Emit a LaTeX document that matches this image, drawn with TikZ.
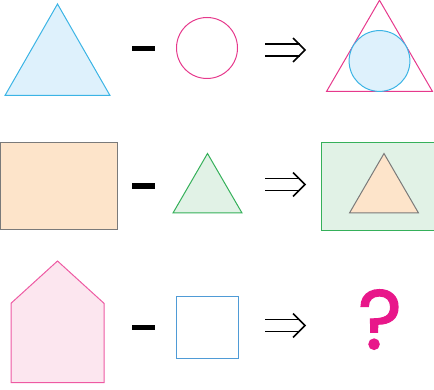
\documentclass[tikz,border=0pt]{standalone}
\usepackage{fontspec}
\usetikzlibrary{positioning}
\newfontfamily\queryfont{Poppins}[FakeBold=1.5]

\definecolor{skyline}{HTML}{3BB4E5}
\definecolor{skyfill}{HTML}{DEF1FC}
\definecolor{rosy}{HTML}{E6398C}
\definecolor{peach}{HTML}{FDE4CA}
\definecolor{slate}{HTML}{7A7A7A}
\definecolor{leafline}{HTML}{35B05A}
\definecolor{leaffill}{HTML}{E1F2E6}
\definecolor{pinkline}{HTML}{EE5AA3}
\definecolor{pinkfill}{HTML}{FCE6EF}
\definecolor{boxblue}{HTML}{4F9BD6}
\definecolor{query}{HTML}{E8178A}

\begin{document}
\begin{tikzpicture}[
    x=1pt, y=-1pt,
    outline/.style={line width=1pt, line join=miter},
    minus_bar/.style={fill=black, draw=none},
    then_arrow/.style={line width=1.7pt, line cap=butt}
]
\useasboundingbox (0,0) rectangle (434,390);

% Row 1: triangle minus circle
\draw[outline, draw=skyline, fill=skyfill] (57.5,4) -- (110,95.5) -- (5,95.5) -- cycle;
\draw[outline, draw=rosy] (207,48) circle[radius=30.5];
\draw[outline, draw=rosy] (379.5,0.3) -- (432.5,91.5) -- (326.5,91.5) -- cycle;
\draw[outline, draw=skyline, fill=skyfill] (379.5,61) circle[radius=30.4];

% Row 2: rectangle minus triangle
\draw[outline, draw=slate, fill=peach] (0.5,142.7) rectangle (117,230);
\draw[outline, draw=leafline, fill=leaffill] (207.5,153.5) -- (242,213) -- (173,213) -- cycle;
\draw[outline, draw=leafline, fill=leaffill] (321,142.7) rectangle (435,230.3);
\draw[outline, draw=slate, fill=peach] (384,153.5) -- (418.5,213) -- (349.5,213) -- cycle;

% Row 3: house minus square
\draw[outline, draw=pinkline, fill=pinkfill] (57.5,261) -- (104,303.3) -- (104,382.7) -- (11,382.7) -- (11,303.3) -- cycle;
\draw[outline, draw=boxblue] (176.7,296.7) rectangle (238,358.3);
\node (query_mark) at (380,319.5) [text=query, inner sep=0pt,
    font=\queryfont\fontsize{84}{84}\selectfont] {?};

% Minus signs and arrows
\foreach \m/\a in {48.5/50, 186/184.5, 327.5/325.5} {
    \fill[minus_bar] (132,\m-2.8) rectangle (155,\m+2.8);
    \draw[then_arrow] (265,\a-6) -- (300,\a-6);
    \draw[then_arrow] (265,\a+6) -- (300,\a+6);
    \draw[then_arrow, line join=miter] (293,\a-12) -- (305,\a) -- (293,\a+12);
}

\end{tikzpicture}
\end{document}
